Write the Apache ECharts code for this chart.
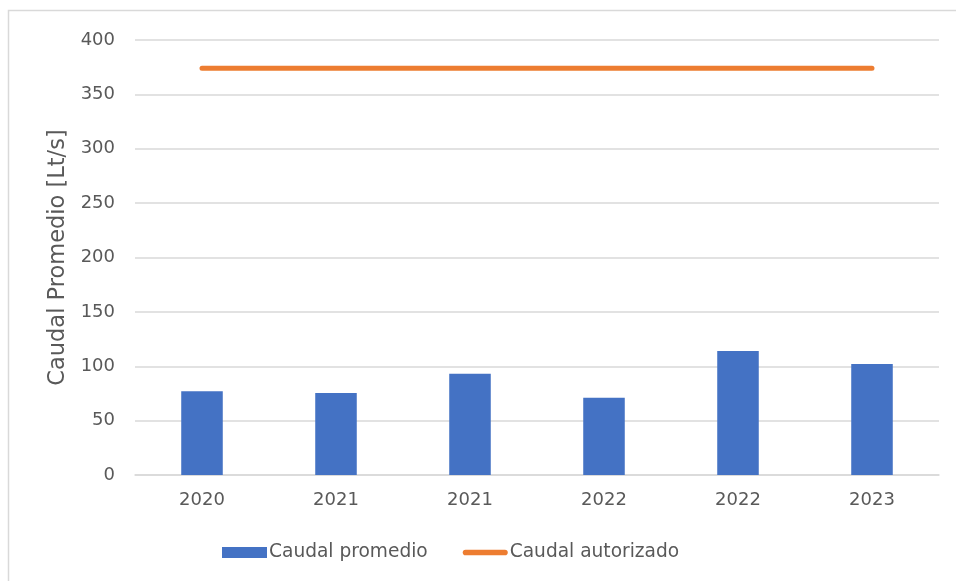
<!DOCTYPE html>
<html>
<head>
<meta charset="utf-8">
<script src="https://cdn.jsdelivr.net/npm/echarts@6/dist/echarts.min.js"></script>
<style>
html,body{margin:0;padding:0;background:#fff;}
#c{width:956px;height:581px;}
</style>
</head>
<body>
<div id="c"></div>
<script>
const categories = ['2020', '2021', '2021', '2022', '2022', '2023'];
const caudalPromedio = [77, 75.5, 93, 71, 114, 102];
const caudalAutorizado = [374, 374, 374, 374, 374, 374];
const yTicks = { min: 0, max: 400, interval: 50 };

const FONT = 'DejaVu Sans';
const TXT = '#595959';

const chart = echarts.init(document.getElementById('c'), null, { renderer: 'canvas' });
chart.setOption({
  backgroundColor: '#ffffff',
  animation: false,
  textStyle: { fontFamily: FONT, color: TXT },
  graphic: [{
    type: 'rect',
    shape: { x: 8.5, y: 10.5, width: 980, height: 600 },
    style: { fill: 'none', stroke: '#d9d9d9', lineWidth: 1.5 },
    silent: true
  }],
  grid: { left: 135, right: 17, top: 40, bottom: 106, containLabel: false },
  legend: {
    bottom: 19,
    left: 222,
    padding: 0,
    itemWidth: 45,
    itemHeight: 11,
    itemGap: 35,
    symbolKeepAspect: true,
    textStyle: { fontFamily: FONT, color: TXT, fontSize: 18.6, padding: [0, 0, 0, -3] },
    data: [
      { name: 'Caudal promedio', icon: 'rect' },
      { name: 'Caudal autorizado', icon: 'path://M3,0 L45,0 A3,3 0 0 1 45,6 L3,6 A3,3 0 0 1 3,0 Z', itemStyle: { color: '#ed7d31' } }
    ]
  },
  xAxis: {
    type: 'category',
    data: categories,
    axisLine: { show: true, lineStyle: { color: '#d9d9d9', width: 1.5 } },
    axisTick: { show: false },
    axisLabel: { color: TXT, fontSize: 18, fontFamily: FONT, margin: 16 },
    splitLine: { show: false }
  },
  yAxis: {
    type: 'value',
    min: yTicks.min,
    max: yTicks.max,
    interval: yTicks.interval,
    name: 'Caudal Promedio [Lt/s]',
    nameLocation: 'middle',
    nameGap: 65,
    nameRotate: 90,
    nameTextStyle: { color: TXT, fontSize: 22.5, fontFamily: FONT },
    axisLine: { show: false },
    axisTick: { show: false },
    axisLabel: { color: TXT, fontSize: 18, fontFamily: FONT, margin: 20 },
    splitLine: { lineStyle: { color: '#d9d9d9', width: 1.5 } }
  },
  series: [
    {
      name: 'Caudal promedio',
      type: 'bar',
      data: caudalPromedio,
      barWidth: '31%',
      itemStyle: { color: '#4472c4' }
    },
    {
      name: 'Caudal autorizado',
      type: 'line',
      data: caudalAutorizado,
      symbol: 'none',
      showSymbol: false,
      lineStyle: { color: '#ed7d31', width: 5, cap: 'round' },
      itemStyle: { color: '#ed7d31' }
    }
  ]
});
</script>
</body>
</html>
